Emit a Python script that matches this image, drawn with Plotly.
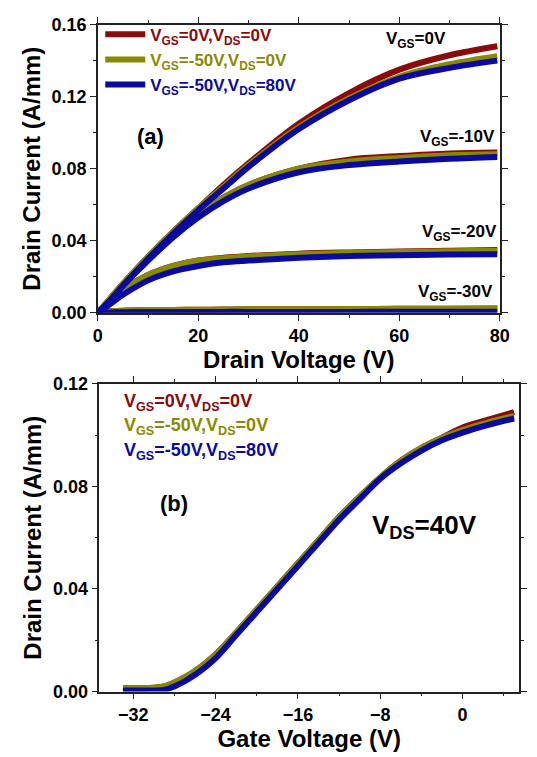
import plotly.graph_objects as go

# ---------------- data ----------------
# (a) output characteristics
vd = [0, 2.5, 5, 10, 15, 20, 25, 30, 40, 50, 60, 70, 79.5]
id0_red   = [0, 0.008, 0.016, 0.031, 0.045, 0.058, 0.071, 0.083, 0.105, 0.122, 0.135, 0.143, 0.148]
id0_olive = [0, 0.008, 0.016, 0.031, 0.045, 0.058, 0.070, 0.082, 0.103, 0.119, 0.131, 0.138, 0.1425]
id0_blue  = [0, 0.007, 0.015, 0.030, 0.044, 0.057, 0.069, 0.081, 0.102, 0.118, 0.130, 0.136, 0.140]

id10_red   = [0, 0.008, 0.016, 0.030, 0.043, 0.055, 0.064, 0.071, 0.080, 0.085, 0.087, 0.0885, 0.089]
id10_olive = [0, 0.008, 0.016, 0.030, 0.043, 0.055, 0.064, 0.071, 0.080, 0.084, 0.086, 0.0875, 0.088]
id10_blue  = [0, 0.007, 0.015, 0.029, 0.042, 0.053, 0.062, 0.069, 0.078, 0.082, 0.084, 0.0855, 0.0865]

id20_red   = [0, 0.007, 0.013, 0.021, 0.026, 0.029, 0.0305, 0.0315, 0.0328, 0.0335, 0.034, 0.0345, 0.0348]
id20_olive = [0, 0.007, 0.013, 0.021, 0.026, 0.029, 0.0303, 0.0313, 0.0325, 0.0332, 0.0337, 0.0342, 0.0345]
id20_blue  = [0, 0.005, 0.010, 0.018, 0.023, 0.026, 0.028, 0.029, 0.0305, 0.0315, 0.032, 0.0323, 0.0325]

id30_red   = [0, 0.0008, 0.0012, 0.0015, 0.0016, 0.0017, 0.0018, 0.0019, 0.002, 0.0021, 0.0022, 0.0023, 0.0024]
id30_olive = [0, 0.0008, 0.0012, 0.0015, 0.0016, 0.0017, 0.0018, 0.0019, 0.002, 0.0021, 0.0022, 0.0023, 0.0024]
id30_blue  = [0, 0.0002, 0.0003, 0.0004, 0.0004, 0.0004, 0.0005, 0.0005, 0.0005, 0.0005, 0.0006, 0.0006, 0.0006]

# (b) transfer characteristics, VDS = 40 V
vg = [-33, -31, -30, -29, -28, -27, -26, -25, -24, -22, -20, -18, -16, -14, -12, -10, -8, -6, -4, -2, 0, 2.5, 5]
ig_red   = [0.0013, 0.0013, 0.0015, 0.002, 0.0035, 0.0055, 0.008, 0.011, 0.0145, 0.023, 0.032, 0.041, 0.050, 0.059, 0.068, 0.076, 0.0835, 0.090, 0.095, 0.099, 0.103, 0.106, 0.109]
ig_olive = [0.0013, 0.0013, 0.0015, 0.002, 0.0035, 0.0055, 0.008, 0.011, 0.0145, 0.023, 0.032, 0.041, 0.050, 0.059, 0.068, 0.076, 0.0835, 0.090, 0.095, 0.099, 0.102, 0.105, 0.1075]
ig_blue  = [0.0004, 0.0004, 0.0004, 0.0006, 0.002, 0.004, 0.0065, 0.0095, 0.013, 0.022, 0.031, 0.040, 0.049, 0.058, 0.067, 0.075, 0.083, 0.089, 0.094, 0.098, 0.101, 0.104, 0.1065]

names = ["V<sub>GS</sub>=0V,V<sub>DS</sub>=0V",
         "V<sub>GS</sub>=-50V,V<sub>DS</sub>=0V",
         "V<sub>GS</sub>=-50V,V<sub>DS</sub>=80V"]
colors = ["#8b0a0a", "#8a8a00", "#0a0aa0"]

FONT = "Liberation Sans, Arial, sans-serif"
W, H = 537, 757

fig = go.Figure()

out_sets = [
    [id0_red, id10_red, id20_red, id30_red],
    [id0_olive, id10_olive, id20_olive, id30_olive],
    [id0_blue, id10_blue, id20_blue, id30_blue],
]
for k, curves in enumerate(out_sets):
    for j, ys in enumerate(curves):
        fig.add_trace(go.Scatter(
            x=vd, y=ys, mode="lines", xaxis="x", yaxis="y",
            line=dict(color=colors[k], width=6, shape="spline"),
            name="<b><span style='color:%s'>%s</span></b>" % (colors[k], names[k]),
            showlegend=(j == 0), legendgroup=str(k)))

for k, ys in enumerate([ig_red, ig_olive, ig_blue]):
    fig.add_trace(go.Scatter(
        x=vg, y=ys, mode="lines", xaxis="x2", yaxis="y2",
        line=dict(color=colors[k], width=6, shape="spline"),
        showlegend=False))


def px_x(p):
    return p / W


def px_y(p):
    return 1 - p / H


axis_common = dict(
    showline=True, linecolor="#222", linewidth=1.5, mirror="allticks",
    ticks="outside", ticklen=6, tickwidth=1.2, tickcolor="#222",
    showgrid=False, zeroline=False,
    tickfont=dict(family=FONT, size=18, color="black", weight="bold"),
    title_font=dict(family=FONT, size=24, color="black", weight="bold"),
)
minor_common = dict(ticks="outside", ticklen=3, tickwidth=1.2, tickcolor="#222")

fig.update_layout(
    width=W, height=H,
    margin=dict(l=0, r=0, t=0, b=0),
    paper_bgcolor="white", plot_bgcolor="white",
    xaxis=dict(domain=[px_x(95.5), px_x(509)], anchor="y", range=[0, 80],
               dtick=20, tick0=0, minor=dict(dtick=10, **minor_common),
               title=dict(text="Drain Voltage (V)", standoff=4), **axis_common),
    yaxis=dict(domain=[px_y(311), px_y(15)], anchor="x", range=[0, 0.16],
               dtick=0.04, tick0=0, tickformat=".2f",
               minor=dict(dtick=0.02, **minor_common),
               title=dict(text="Drain Current (A/mm)", standoff=4), **axis_common),
    xaxis2=dict(domain=[px_x(97), px_x(529)], anchor="y2", range=[-35.3, 5.5],
                dtick=8, tick0=0, minor=dict(dtick=4, **minor_common),
                title=dict(text="Gate Voltage (V)", standoff=4), **axis_common),
    yaxis2=dict(domain=[px_y(700), px_y(384)], anchor="x2", range=[0, 0.12],
                dtick=0.04, tick0=0, tickformat=".2f",
                minor=dict(dtick=0.02, **minor_common),
                title=dict(text="Drain Current (A/mm)", standoff=4), **axis_common),
    legend=dict(x=px_x(98), y=px_y(7), xanchor="left", yanchor="top",
                bgcolor="rgba(0,0,0,0)", borderwidth=0,
                font=dict(family=FONT, size=17), tracegroupgap=0,
                itemwidth=40),
)

ann = []


def add_text(x, y, text, size=17, color="black", xanchor="left"):
    ann.append(dict(x=x, y=y, xref="paper", yref="paper", text=text, showarrow=False,
                    xanchor=xanchor, yanchor="middle",
                    font=dict(family=FONT, size=size, color=color, weight="bold")))


add_text(px_x(456), px_y(31), "V<sub>GS</sub>=0V", xanchor="right")
add_text(px_x(506), px_y(131), "V<sub>GS</sub>=-10V", xanchor="right")
add_text(px_x(508), px_y(229), "V<sub>GS</sub>=-20V", xanchor="right")
add_text(px_x(504), px_y(291), "V<sub>GS</sub>=-30V", xanchor="right")
add_text(px_x(134), px_y(130), "(a)", size=22)

add_text(px_x(120), px_y(403), "V<sub>GS</sub>=0V,V<sub>DS</sub>=0V", size=18, color=colors[0])
add_text(px_x(120), px_y(428), "V<sub>GS</sub>=-50V,V<sub>DS</sub>=0V", size=18, color=colors[1])
add_text(px_x(120), px_y(453), "V<sub>GS</sub>=-50V,V<sub>DS</sub>=80V", size=18, color=colors[2])
add_text(px_x(157), px_y(507), "(b)", size=22)
add_text(px_x(376), px_y(531), "V<sub>DS</sub>=40V", size=26)

fig.update_layout(annotations=ann)

fig.write_html("out.html")
